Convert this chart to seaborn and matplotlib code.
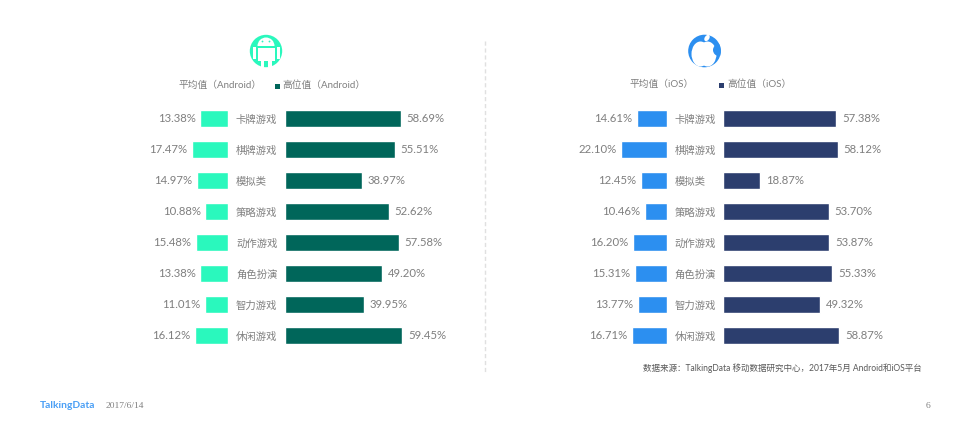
import numpy as np
import pandas as pd
import matplotlib
matplotlib.use('Agg')
import matplotlib.pyplot as plt
from matplotlib.patches import Circle, Ellipse, Rectangle, Wedge
import seaborn as sns

categories = ['卡牌游戏', '棋牌游戏', '模拟类', '策略游戏', '动作游戏', '角色扮演', '智力游戏', '休闲游戏']
android_avg = [13.38, 17.47, 14.97, 10.88, 15.48, 13.38, 11.01, 16.12]
android_high = [58.69, 55.51, 38.97, 52.62, 57.58, 49.20, 39.95, 59.45]
ios_avg = [14.61, 22.10, 12.45, 10.46, 16.20, 15.31, 13.77, 16.71]
ios_high = [57.38, 58.12, 18.87, 53.70, 53.87, 55.33, 49.32, 58.87]

W, H = 968, 430
GREY = '#7f7f7f'
sns.set_theme(style='white')
plt.rcParams['font.family'] = ['Lato', 'Noto Sans CJK SC', 'DejaVu Sans']

fig = plt.figure(figsize=(W / 100, H / 100), dpi=100, facecolor='white')


# axes placed by pixel box, y measured from the top
def px_axes(x0, y0, x1, y1, **kw):
    return fig.add_axes([x0 / W, 1 - y1 / H, (x1 - x0) / W, (y1 - y0) / H], **kw)


def bars(box, values, color, xlim, pad, cats=False):
    ax = px_axes(*box)
    df = pd.DataFrame({'cat': categories, 'val': values})
    sns.barplot(data=df, y='cat', x='val', color=color, width=0.56, saturation=1, ax=ax)
    ax.set_xlim(*xlim)
    ax.set_xlabel('')
    ax.set_ylabel('')
    ax.set_xticks([])
    ax.patch.set_alpha(0)
    sns.despine(ax=ax, left=True, bottom=True)
    labels = [f'{v:.2f}%' for v in values]
    ax.bar_label(ax.containers[0], labels=labels, padding=pad, color=GREY, fontsize=8.2)
    if cats:
        ax.tick_params(axis='y', length=0, pad=35, labelsize=7.45, labelcolor=GREY)
        for t in ax.get_yticklabels():
            t.set_ha('left')
    else:
        ax.set_yticks([])
    return ax


# y box covers 8 bands of 31px, centred on 119...336
top, bot = 103.2, 351.2
bars((147.7, top, 227.7, bot), android_avg, '#2af8bd', (39, 0), 3.4)
bars((284.6, top, 454.6, bot), android_high, '#00665a', (0, 170 / 1.98), 4.0, cats=True)
bars((586.5, top, 666.5, bot), ios_avg, '#2c8ff0', (39, 0), 3.4)
bars((723.0, top, 893.0, bot), ios_high, '#2c3e6e', (0, 170 / 1.975), 4.0, cats=True)

# overlay in pixel coords for legend, icons, footer
ov = fig.add_axes([0, 0, 1, 1], zorder=5)
ov.set_xlim(0, W)
ov.set_ylim(H, 0)
ov.axis('off')

ov.plot([485, 485], [41, 372], color='#e0e0e0', lw=1, ls=(0, (3, 2)))

ov.text(178.5, 85.5, '平均值（Android）', color=GREY, fontsize=7, va='center')
ov.add_patch(Rectangle((275, 84), 5, 5, color='#00665a', lw=0))
ov.text(282, 85.5, '高位值（Android）', color=GREY, fontsize=7, va='center')
ov.text(629.5, 84.5, '平均值（iOS）', color=GREY, fontsize=7, va='center')
ov.add_patch(Rectangle((719, 83), 5, 5, color='#2c3e6e', lw=0))
ov.text(727, 84.5, '高位值（iOS）', color=GREY, fontsize=7, va='center')

# android icon: white robot on a teal disc
c = '#2af8bd'
ov.add_patch(Circle((266, 51), 16.2, color=c, lw=0))
ov.add_patch(Wedge((266, 46), 8.5, 180, 360, color='white', lw=0))
ov.add_patch(Rectangle((257.5, 47.5), 17, 13, color='white', lw=0))
ov.add_patch(Rectangle((252.5, 47), 3, 12, color='white', lw=0))
ov.add_patch(Rectangle((276.5, 47), 3, 12, color='white', lw=0))
ov.add_patch(Rectangle((260.5, 60), 3.2, 7, color='white', lw=0))
ov.add_patch(Rectangle((268.3, 60), 3.2, 7, color='white', lw=0))
ov.add_patch(Circle((262.5, 41.5), 0.9, color=c, lw=0))
ov.add_patch(Circle((269.5, 41.5), 0.9, color=c, lw=0))

# apple icon
b = '#2c8ff0'
disc = Circle((704.5, 51), 16.3, color=b, lw=0)
ov.add_patch(disc)
ov.add_patch(Ellipse((700.5, 54), 18, 25, color='white', lw=0))
ov.add_patch(Ellipse((707.5, 54), 18, 25, color='white', lw=0))
bite = Circle((719, 50), 6, color=b, lw=0)
ov.add_patch(bite)
bite.set_clip_path(disc)
ov.add_patch(Ellipse((707, 38), 4.5, 7, angle=35, color='white', lw=0))

ov.text(922, 368.5, '数据来源：TalkingData 移动数据研究中心，2017年5月 Android和iOS平台',
        color='#595959', fontsize=6.15, ha='right', va='center')
ov.text(40, 405.5, 'TalkingData', color='#4a9ff5', fontsize=7.4, fontweight='bold', va='center')
ov.text(106, 406, '2017/6/14', color=GREY, fontsize=6.8, va='center', family='Liberation Serif')
ov.text(928, 405.5, '6', color=GREY, fontsize=6.8, ha='center', va='center', family='Liberation Serif')

fig.savefig('out.png', dpi=100, facecolor='white')
